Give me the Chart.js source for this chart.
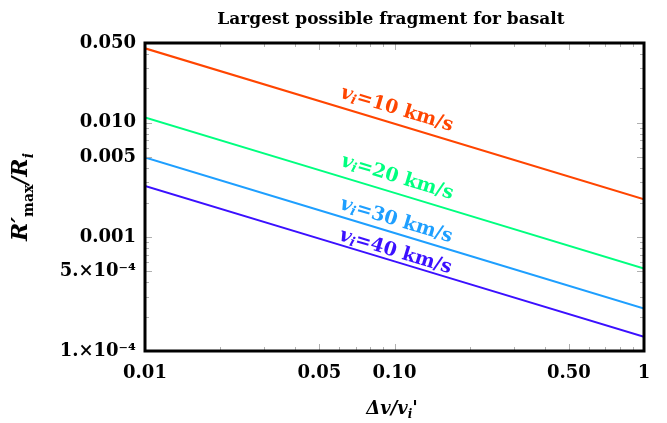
<!DOCTYPE html>
<html>
<head>
<meta charset="utf-8">
<script src="https://cdn.jsdelivr.net/npm/chart.js@4.4.3/dist/chart.umd.min.js"></script>
<style>
  html, body { margin: 0; padding: 0; background: #fff; }
  #wrap { width: 667px; height: 423px; position: relative; }
</style>
</head>
<body>
<div id="wrap"><canvas id="chart" width="667" height="423"></canvas></div>
<script>
// values (log-log, straight lines)
const xValues = [0.01, 0.1, 1];
const speeds = ['10', '20', '30', '40'];
const r10 = [0.0449, 0.0098, 0.00214];
const r20 = [0.01115, 0.00243, 0.000528];
const r30 = [0.00497, 0.00108, 0.000235];
const r40 = [0.0028, 0.00061, 0.000133];
const seriesColors = ['#ff4500', '#00ff7f', '#1e9fff', '#3b10ff'];

const xTickValues = [0.01, 0.05, 0.1, 0.5, 1];
const xTickLabels = ['0.01', '0.05', '0.10', '0.50', '1'];
const yTickValues = [0.0001, 0.0005, 0.001, 0.005, 0.01, 0.05];
const yTickLabels = ['1.×10⁻⁴', '5.×10⁻⁴', '0.001', '0.005', '0.010', '0.050'];

const SERIF = "'DejaVu Serif', 'Liberation Serif', serif";
const labelOffsets = [15, 16, 13, 10];

function pts(ys) {
  return xValues.map((x, i) => ({ x, y: ys[i] }));
}

// draw a run of text pieces (font / vertical shift) centred on 0,0
function drawRich(ctx, parts, align) {
  let w = 0;
  for (const p of parts) {
    ctx.font = p.font;
    p.w = ctx.measureText(p.text).width;
    w += p.w;
  }
  let x = align === 'left' ? 0 : -w / 2;
  for (const p of parts) {
    ctx.font = p.font;
    ctx.fillText(p.text, x, p.dy || 0);
    x += p.w;
  }
}

function speedLabel(v) {
  return [
    { text: 'v', font: `italic bold 20px ${SERIF}` },
    { text: 'i', font: `italic bold 13px ${SERIF}`, dy: 4 },
    { text: '=' + v + ' km/s', font: `bold 19px ${SERIF}` }
  ];
}

function minorTicks(min, max) {
  const out = [];
  for (let e = Math.floor(Math.log10(min)); e <= Math.ceil(Math.log10(max)); e++) {
    for (let m = 1; m <= 9; m++) {
      const v = m * Math.pow(10, e);
      if (v >= min * 0.999 && v <= max * 1.001) out.push(v);
    }
  }
  return out;
}

const decorPlugin = {
  id: 'decor',
  afterDatasetsDraw(chart) {
    const { ctx, chartArea: a, scales } = chart;
    const xs = scales.x, ys = scales.y;
    ctx.save();

    // inward ticks
    ctx.strokeStyle = '#b0b0b0';
    ctx.lineWidth = 1;
    for (const v of minorTicks(0.01, 1)) {
      const px = Math.round(xs.getPixelForValue(v)) + 0.5;
      const len = xTickValues.includes(v) ? 7 : 4;
      ctx.beginPath();
      ctx.moveTo(px, a.bottom); ctx.lineTo(px, a.bottom - len);
      ctx.moveTo(px, a.top); ctx.lineTo(px, a.top + len);
      ctx.stroke();
    }
    for (const v of minorTicks(0.0001, 0.05)) {
      const py = Math.round(ys.getPixelForValue(v)) + 0.5;
      const len = yTickValues.some(t => Math.abs(t - v) / t < 1e-6) ? 7 : 4;
      ctx.beginPath();
      ctx.moveTo(a.left, py); ctx.lineTo(a.left + len, py);
      ctx.moveTo(a.right, py); ctx.lineTo(a.right - len, py);
      ctx.stroke();
    }

    // frame
    ctx.strokeStyle = '#000';
    ctx.lineWidth = 3;
    ctx.strokeRect(a.left, a.top, a.right - a.left, a.bottom - a.top);

    // series labels along the lines
    chart.data.datasets.forEach((ds, i) => {
      const p0 = { x: xs.getPixelForValue(ds.data[0].x), y: ys.getPixelForValue(ds.data[0].y) };
      const p2 = { x: xs.getPixelForValue(ds.data[2].x), y: ys.getPixelForValue(ds.data[2].y) };
      const pm = { x: xs.getPixelForValue(ds.data[1].x), y: ys.getPixelForValue(ds.data[1].y) };
      const ang = Math.atan2(p2.y - p0.y, p2.x - p0.x);
      const d = labelOffsets[i];
      ctx.save();
      ctx.translate(pm.x - 2 + Math.sin(ang) * d, pm.y - Math.cos(ang) * d);
      ctx.rotate(ang);
      ctx.fillStyle = ds.borderColor;
      ctx.textBaseline = 'middle';
      drawRich(ctx, speedLabel(speeds[i]));
      ctx.restore();
    });

    // title
    ctx.fillStyle = '#000';
    ctx.textAlign = 'center';
    ctx.textBaseline = 'alphabetic';
    ctx.font = `bold 17px ${SERIF}`;
    ctx.fillText('Largest possible fragment for basalt', 391, 24);
    ctx.textAlign = 'left';

    // x axis title
    ctx.save();
    ctx.translate(392, 414);
    drawRich(ctx, [
      { text: 'Δv/v', font: `italic bold 18px ${SERIF}` },
      { text: 'i', font: `italic bold 12px ${SERIF}`, dy: 4 },
      { text: "'", font: `bold 18px ${SERIF}` }
    ]);
    ctx.restore();

    // y axis title
    ctx.save();
    ctx.translate(27, 197);
    ctx.rotate(-Math.PI / 2);
    drawRich(ctx, [
      { text: 'R′', font: `italic bold 22px ${SERIF}` },
      { text: 'max', font: `bold 14px ${SERIF}`, dy: 6 },
      { text: '/R', font: `italic bold 22px ${SERIF}` },
      { text: 'i', font: `italic bold 14px ${SERIF}`, dy: 6 }
    ]);
    ctx.restore();

    ctx.restore();
  }
};

new Chart(document.getElementById('chart'), {
  type: 'line',
  data: {
    datasets: [r10, r20, r30, r40].map((ys, i) => ({
      label: 'v_i=' + speeds[i] + ' km/s',
      data: pts(ys),
      borderColor: seriesColors[i],
      borderWidth: 2,
      pointRadius: 0,
      tension: 0,
      fill: false
    }))
  },
  options: {
    responsive: false,
    animation: false,
    layout: { padding: { top: 43, right: 23, left: 0, bottom: 0 } },
    plugins: { legend: { display: false }, title: { display: false }, tooltip: { enabled: false } },
    scales: {
      x: {
        type: 'logarithmic',
        min: 0.01,
        max: 1,
        afterBuildTicks: s => { s.ticks = xTickValues.map(v => ({ value: v })); },
        afterFit: s => { s.height = 72; },
        grid: { display: false, drawTicks: false },
        border: { display: false },
        ticks: {
          autoSkip: false,
          maxRotation: 0,
          padding: 12,
          color: '#000',
          font: { family: SERIF, size: 18, weight: 'bold' },
          callback: (v) => xTickLabels[xTickValues.indexOf(v)]
        }
      },
      y: {
        type: 'logarithmic',
        min: 0.0001,
        max: 0.05,
        afterBuildTicks: s => { s.ticks = yTickValues.map(v => ({ value: v })); },
        afterFit: s => { s.width = 145; },
        grid: { display: false, drawTicks: false },
        border: { display: false },
        ticks: {
          autoSkip: false,
          padding: 9,
          color: '#000',
          font: { family: SERIF, size: 18, weight: 'bold' },
          callback: (v) => yTickLabels[yTickValues.indexOf(v)]
        }
      }
    }
  },
  plugins: [decorPlugin]
});
</script>
</body>
</html>
